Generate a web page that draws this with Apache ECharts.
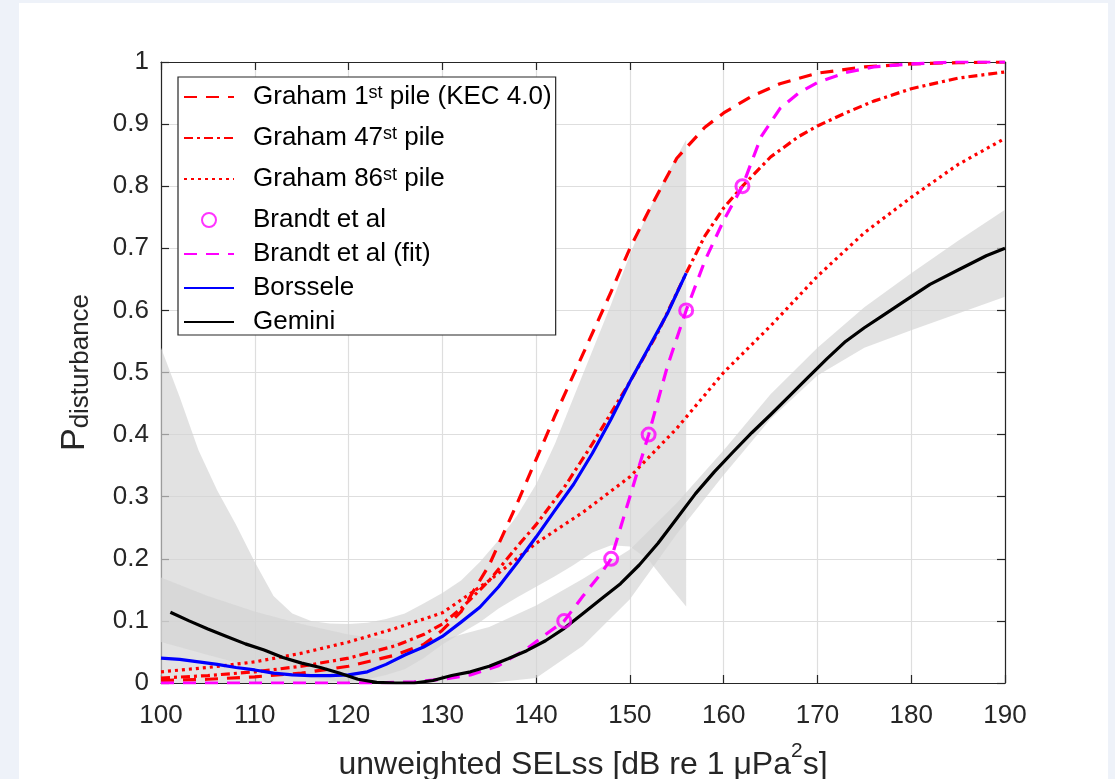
<!DOCTYPE html>
<html><head><meta charset="utf-8">
<script src="https://cdn.jsdelivr.net/npm/echarts@6/dist/echarts.min.js"></script>
<style>
html,body{margin:0;padding:0;background:#eef2f9;width:1115px;height:779px;overflow:hidden}
#panel{position:absolute;left:19px;top:3px;width:1089px;height:776px;background:#fff}
#chart{position:absolute;left:0;top:0;width:1115px;height:779px}
</style></head><body>
<div id="panel"></div><div id="chart"></div>
<script>
// ---------------- data ----------------
const xTicks = [100,110,120,130,140,150,160,170,180,190];
const yTicks = [0,0.1,0.2,0.3,0.4,0.5,0.6,0.7,0.8,0.9,1];

const g1X = [100,105,110,115,120,125,128,130,132,135,138,140,142,145,148,150,152,155,158,160,163,166,170,175,180,185,190];
const g1Y = [0.004,0.006,0.01,0.016,0.027,0.045,0.062,0.085,0.115,0.19,0.29,0.36,0.43,0.53,0.63,0.70,0.76,0.845,0.895,0.918,0.945,0.965,0.982,0.992,0.997,0.999,1.0];

const g47X = [100,105,110,115,120,125,128,130,132,135,138,140,143,146,150,153,156,158,160,162,165,168,170,173,176,180,185,190];
const g47Y = [0.008,0.012,0.018,0.027,0.04,0.06,0.078,0.095,0.12,0.165,0.22,0.255,0.315,0.385,0.485,0.565,0.66,0.72,0.765,0.80,0.847,0.88,0.897,0.918,0.937,0.957,0.974,0.984];

const g86X = [100,105,110,115,120,125,130,135,140,145,150,155,160,165,170,175,180,185,190];
const g86Y = [0.018,0.025,0.034,0.048,0.066,0.088,0.113,0.165,0.225,0.275,0.332,0.41,0.5,0.575,0.655,0.725,0.782,0.835,0.877];

const brandtX = [143,148,152,156,162];
const brandtY = [0.1,0.2,0.4,0.6,0.8];

const bfX = [100,105,110,115,120,124,127,130,133,136,139,141,143,145,147,148,149,150,151,152,154,156,158,160,162,164,166,168,170,173,176,180,185,190];
const bfY = [0,0,0,0,0,0.0005,0.002,0.006,0.013,0.028,0.055,0.078,0.1,0.14,0.178,0.2,0.25,0.3,0.35,0.4,0.51,0.6,0.68,0.745,0.8,0.88,0.925,0.95,0.967,0.983,0.992,0.997,1.0,1.0];

const borX = [100,102,104,106,108,110,112,114,116,118,120,122,124,126,128,130,132,134,136,138,140,142,144,146,148,150,152,154,156];
const borY = [0.04,0.038,0.034,0.03,0.025,0.021,0.016,0.013,0.012,0.012,0.013,0.018,0.03,0.045,0.058,0.075,0.098,0.122,0.155,0.194,0.235,0.278,0.32,0.37,0.425,0.485,0.54,0.595,0.66];
const borHi = [0.54,0.46,0.375,0.31,0.255,0.195,0.14,0.112,0.1,0.096,0.095,0.097,0.103,0.112,0.128,0.145,0.165,0.195,0.23,0.27,0.32,0.385,0.46,0.535,0.61,0.69,0.76,0.82,0.875];
const borLo = [0,0,0,0,0,0,0,0,0,0,0.002,0.006,0.013,0.022,0.04,0.062,0.08,0.098,0.12,0.138,0.155,0.172,0.19,0.21,0.222,0.22,0.198,0.16,0.123];

const gemX = [101,103,105,107,109,111,113,115,117,119,121,123,125,127,129,131,133,135,137,139,141,143,145,147,149,151,153,155,157,159,161,163,165,167,169,171,173,175,177,179,182,185,188,190];
const gemY = [0.114,0.1,0.087,0.075,0.063,0.053,0.041,0.032,0.025,0.016,0.006,0.001,0,0,0.004,0.012,0.018,0.027,0.039,0.052,0.068,0.088,0.112,0.136,0.16,0.19,0.225,0.265,0.305,0.34,0.372,0.403,0.432,0.462,0.492,0.522,0.55,0.572,0.592,0.612,0.642,0.665,0.688,0.70];
const gemBandX = [100,105,110,115,120,125,130,135,140,145,150,155,160,165,170,175,180,185,190];
const gemHi = [0.17,0.14,0.115,0.095,0.078,0.068,0.07,0.09,0.125,0.168,0.215,0.29,0.375,0.465,0.54,0.605,0.66,0.712,0.762];
const gemLo = [0.066,0.045,0.025,0.01,0,0,0,0,0.008,0.06,0.135,0.24,0.335,0.425,0.495,0.54,0.568,0.595,0.622];

const legendNames = ['Graham 1st pile (KEC 4.0)','Graham 47st pile','Graham 86st pile','Brandt et al','Brandt et al (fit)','Borssele','Gemini'];
const xName = 'unweighted SELss [dB re 1 μPa';
// ----------------------------------------------------------------

const FONT = '"Liberation Sans", Arial, Helvetica, sans-serif';
const AX = '#262626';
function pairs(xs, ys){ return xs.map((x,i)=>[x, ys[i]]); }
function band(name, xs, lo, hi){
  return {
    type:'custom', name:name, silent:true, z:1, clip:true,
    data: xs.map((x,i)=>[x, lo[i], hi[i]]),
    encode:{x:0, y:[1,2]},
    renderItem:function(params, api){
      if (params.dataIndex !== 0) return null;
      const pts=[];
      for (let i=0;i<xs.length;i++) pts.push(api.coord([xs[i], hi[i]]));
      for (let i=xs.length-1;i>=0;i--) pts.push(api.coord([xs[i], lo[i]]));
      return {type:'polygon', shape:{points:pts, smooth:0}, style:{fill:'rgba(212,212,212,0.68)'}};
    }
  };
}
function line(name, xs, ys, color, type, width){
  return {type:'line', name:name, data:pairs(xs,ys), symbol:'none', showSymbol:false,
    smooth:false, z:5, clip:true,
    lineStyle:{color:color, width:width, type:type, cap:'butt', join:'round'}, itemStyle:{color:color}};
}

const chart = echarts.init(document.getElementById('chart'), null, {renderer:'canvas'});
const grid = {left:161, top:62, width:844, height:621, containLabel:false, outerBoundsMode:'none'};

const legendData = legendNames.map(function(n, i){
  if (i === 3) return {name:n};
  return {name:n, itemStyle:{opacity:0}};
});

chart.setOption({
  backgroundColor:'transparent',
  animation:false,
  grid:grid,
  legend:{
    orient:'vertical', left:178, top:77,
    data:legendData,
    backgroundColor:'#fff', borderColor:'#262626', borderWidth:1.2, borderRadius:0,
    padding:[7,4,0,5], itemGap:8, itemWidth:50, itemHeight:14,
    selectedMode:false,
    textStyle:{fontFamily:FONT, fontSize:26, color:'#000', padding:[0,0,0,14],
      rich:{
        n:{fontFamily:FONT, fontSize:26, color:'#000', verticalAlign:'bottom'},
        s:{fontFamily:FONT, fontSize:18, color:'#000', lineHeight:18, padding:[0,0,15,0], verticalAlign:'top'}
      }},
    formatter:function(name){
      const i = name.indexOf('st ');
      if (i>0 && /\d/.test(name[i-1])) {
        return '{n|'+name.slice(0,i)+'}{s|st}{n|'+name.slice(i+2)+'}';
      }
      return '{n|'+name+'}';
    }
  },
  xAxis:[{
    type:'value', min:100, max:190, interval:10, position:'bottom',
    axisLine:{show:true, onZero:false, lineStyle:{color:AX, width:1.2}},
    axisTick:{show:true, inside:true, length:8, lineStyle:{color:AX, width:1.2}},
    axisLabel:{fontFamily:FONT, fontSize:26, color:AX, margin:20,
      formatter:function(v){ return String(Math.round(v)); }},
    splitLine:{show:true, lineStyle:{color:'#dedede', width:1.2}},
    name:'{a|'+xName+'}{s|2}{a|s]}', nameLocation:'middle', nameGap:58,
    nameTextStyle:{rich:{
      a:{fontFamily:FONT, fontSize:32, color:AX, lineHeight:40, verticalAlign:'bottom'},
      s:{fontFamily:FONT, fontSize:21, color:AX, lineHeight:21, verticalAlign:'top'}
    }}
  },{
    type:'value', min:100, max:190, interval:10, position:'top',
    axisLine:{show:true, onZero:false, lineStyle:{color:AX, width:1.2}},
    axisTick:{show:true, inside:true, length:8, lineStyle:{color:AX, width:1.2}},
    axisLabel:{show:false}, splitLine:{show:false}
  }],
  yAxis:[{
    type:'value', min:0, max:1, interval:0.1, position:'left',
    axisLine:{show:true, onZero:false, lineStyle:{color:AX, width:1.2}},
    axisTick:{show:true, inside:true, length:8, lineStyle:{color:AX, width:1.2}},
    axisLabel:{fontFamily:FONT, fontSize:26, color:AX, margin:12,
      formatter:function(v){ if (Math.abs(v)<1e-9) return '0'; if (Math.abs(v-1)<1e-9) return '1'; return v.toFixed(1); }},
    splitLine:{show:true, lineStyle:{color:'#dedede', width:1.2}},
    name:'{p|P}{d|disturbance}', nameLocation:'middle', nameGap:67, nameRotate:90,
    nameTextStyle:{padding:[0,0,0,0], rich:{
      p:{fontFamily:FONT, fontSize:34, color:AX, lineHeight:36, verticalAlign:'top'},
      d:{fontFamily:FONT, fontSize:26, color:AX, lineHeight:26, padding:[26,0,0,0], verticalAlign:'bottom'}
    }}
  },{
    type:'value', min:0, max:1, interval:0.1, position:'right',
    axisLine:{show:true, onZero:false, lineStyle:{color:AX, width:1.2}},
    axisTick:{show:true, inside:true, length:8, lineStyle:{color:AX, width:1.2}},
    axisLabel:{show:false}, splitLine:{show:false}
  }],
  series:[
    band('Borssele band', borX, borLo, borHi),
    band('Gemini band', gemBandX, gemLo, gemHi),
    line(legendNames[0], g1X, g1Y, '#ff0000', [13,9], 3.2),
    line(legendNames[1], g47X, g47Y, '#ff0000', [9,4,3,4], 3.2),
    line(legendNames[2], g86X, g86Y, '#ff0000', [3,4], 3.2),
    {type:'scatter', name:legendNames[3], data:pairs(brandtX, brandtY), symbol:'circle', symbolSize:13, z:7,
      itemStyle:{color:'rgba(255,255,255,0)', borderColor:'#ff00ff', borderWidth:3}},
    line(legendNames[4], bfX, bfY, '#ff00ff', [13,9], 3.2),
    line(legendNames[5], borX, borY, '#0000ff', 'solid', 3.2),
    line(legendNames[6], gemX, gemY, '#000000', 'solid', 3.2)
  ]
});
</script>
</body></html>
